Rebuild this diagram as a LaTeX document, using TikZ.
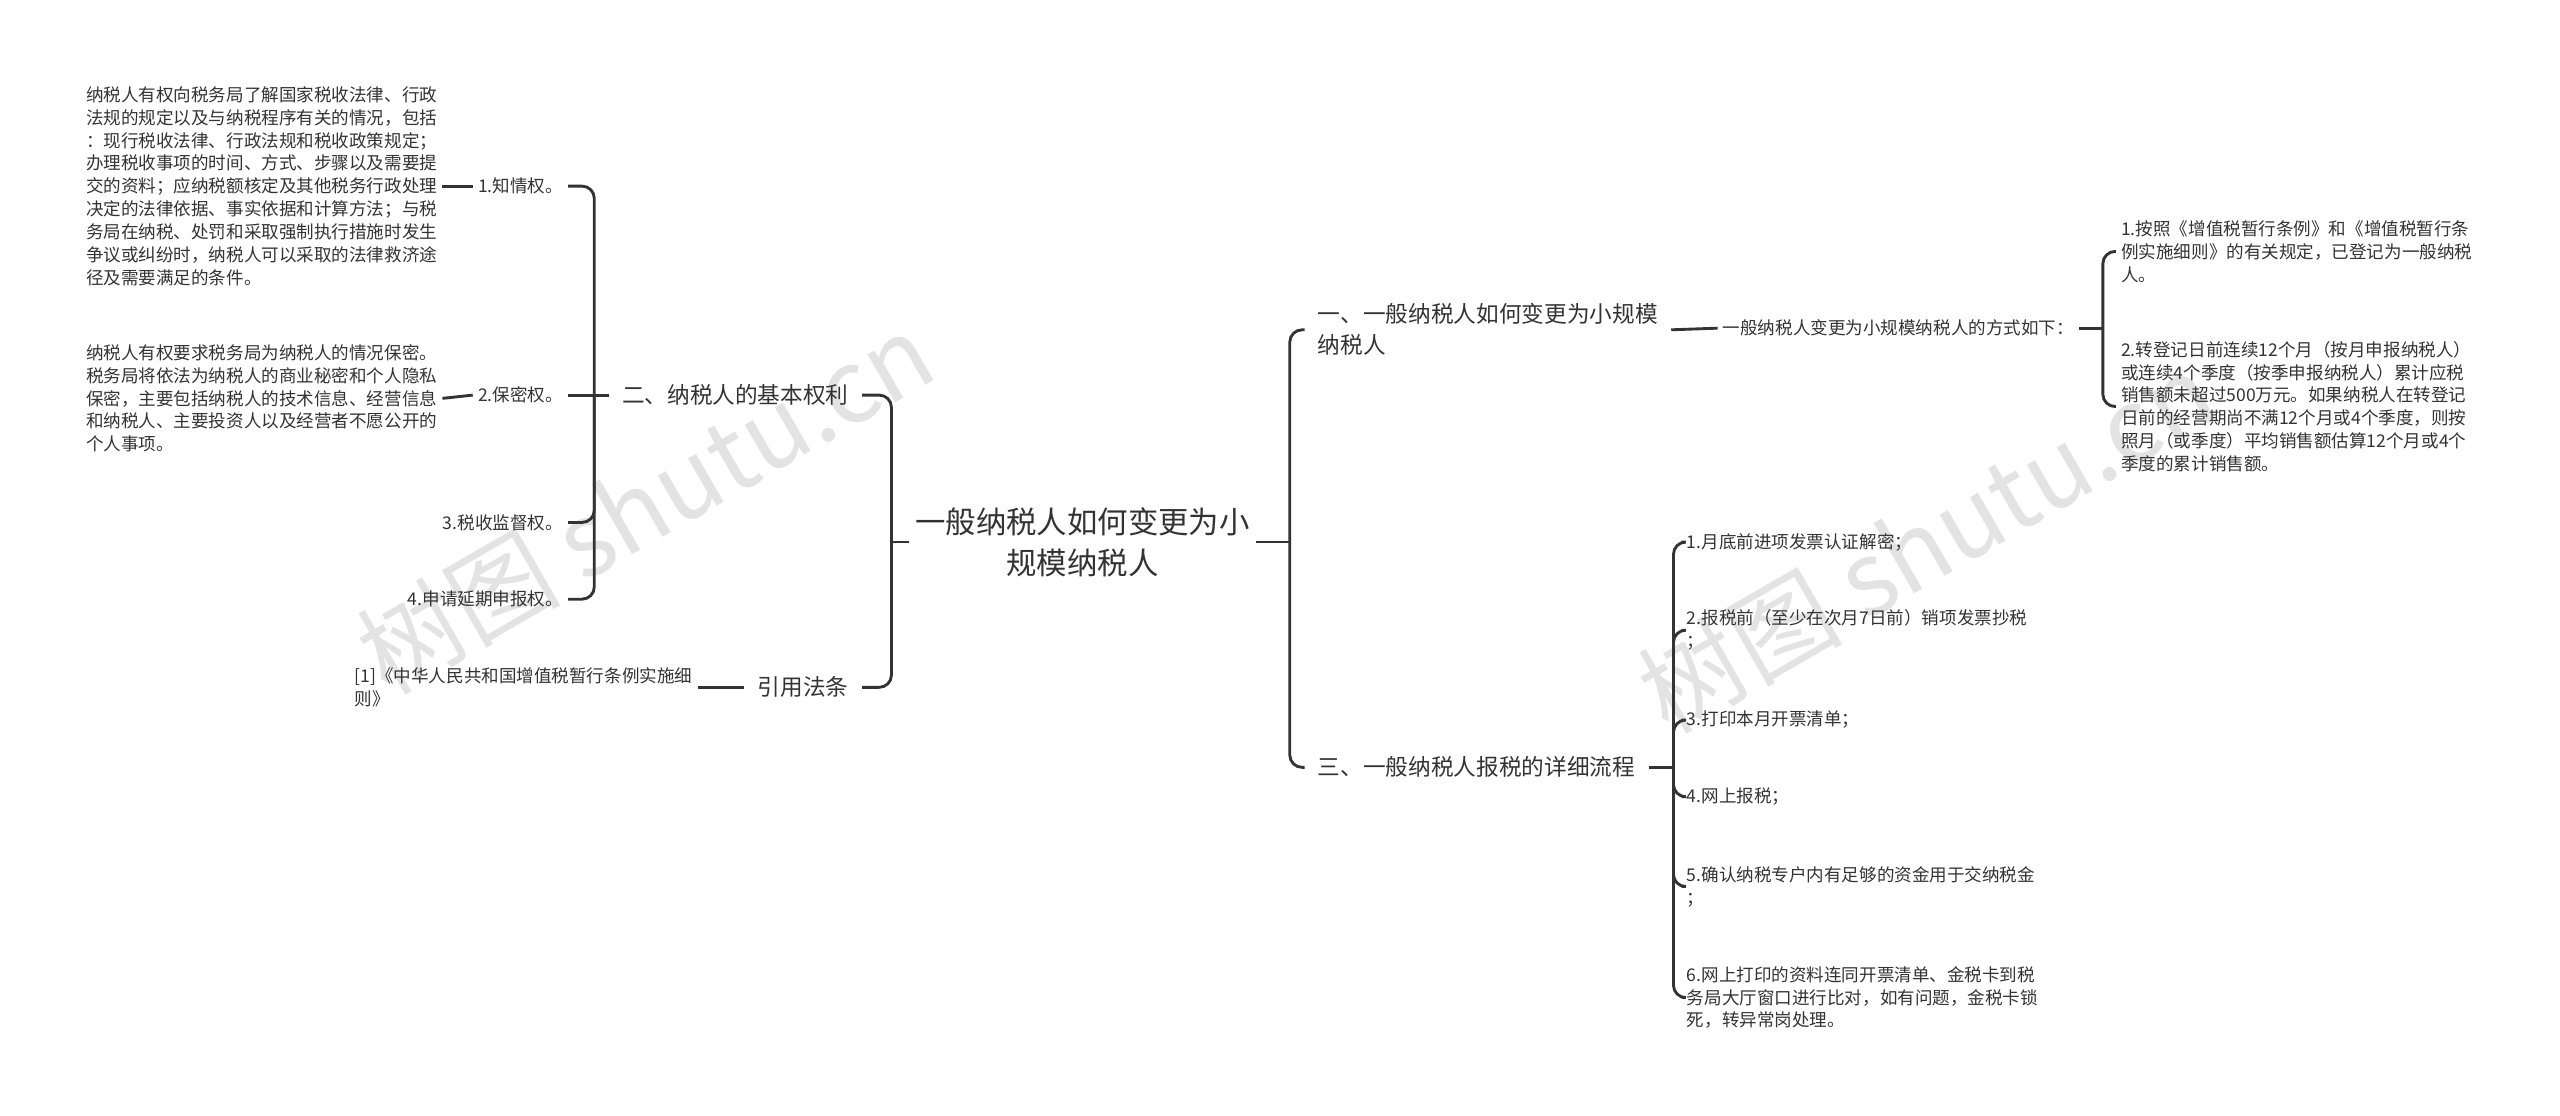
\documentclass[tikz,border=0pt]{standalone}
\usepackage{fontspec}
\setmainfont{Noto Sans CJK SC}
\usepackage{tikz}
\usepackage{xcolor}
\definecolor{inkcolor}{HTML}{333333}
\definecolor{stampcolor}{HTML}{E3E3E3}

\begin{document}
\begin{tikzpicture}[
    x=0.8pt, y=-0.8pt,
    rootnode/.style={inner sep=3pt, align=center, text=inkcolor,
        font=\fontsize{14.9pt}{20pt}\selectfont},
    topicnode/.style={inner xsep=6.4pt, inner ysep=3pt, align=left, text=inkcolor,
        font=\fontsize{11.1pt}{15.2pt}\selectfont},
    leafnode/.style={inner sep=2.4pt, align=left, text=inkcolor,
        font=\fontsize{8.6pt}{11.2pt}\selectfont},
    link/.style={draw=inkcolor, line width=1.4pt, rounded corners=6pt},
    stamp/.style={text=stampcolor, rotate=30, font=\fontsize{50pt}{50pt}\selectfont}
]
\useasboundingbox (0,0) rectangle (1568,683);

% watermarks
\node[stamp] (stampL) at (395,308) {树图 shutu.cn};
\node[stamp] (stampR) at (1180,332) {树图 shutu.cn};

% centre
\node[rootnode] (root) at (663,332) {一般纳税人如何变更为小\\规模纳税人};
\coordinate (jL) at (546,332);
\coordinate (jR) at (790,332);
\draw[link] (root.west) -- (jL);
\draw[link] (root.east) -- (jR);

% left half
\node[topicnode, anchor=east] (rights) at (528,242) {二、纳税人的基本权利};
\node[topicnode, anchor=east] (laws) at (528,421) {引用法条};
\draw[link] (jL) |- (rights.east);
\draw[link] (jL) |- (laws.east);

\coordinate (jA) at (364,242);
\draw[link] (rights.west) -- (jA);
\node[leafnode, anchor=east] (right1) at (348,114) {1.知情权。};
\node[leafnode, anchor=east] (right2) at (348,242) {2.保密权。};
\node[leafnode, anchor=east] (right3) at (348,320) {3.税收监督权。};
\node[leafnode, anchor=east] (right4) at (348,367) {4.申请延期申报权。};
\draw[link] (jA) -- (right2.east);
\foreach \n in {1,3,4}
    \draw[link] (jA) |- (right\n.east);

\node[leafnode, anchor=east] (info1) at (271,114) {纳税人有权向税务局了解国家税收法律、行政\\法规的规定以及与纳税程序有关的情况，包括\\：现行税收法律、行政法规和税收政策规定；\\办理税收事项的时间、方式、步骤以及需要提\\交的资料；应纳税额核定及其他税务行政处理\\决定的法律依据、事实依据和计算方法；与税\\务局在纳税、处罚和采取强制执行措施时发生\\争议或纠纷时，纳税人可以采取的法律救济途\\径及需要满足的条件。};
\node[leafnode, anchor=east] (info2) at (271,244) {纳税人有权要求税务局为纳税人的情况保密。\\税务局将依法为纳税人的商业秘密和个人隐私\\保密，主要包括纳税人的技术信息、经营信息\\和纳税人、主要投资人以及经营者不愿公开的\\个人事项。};
\draw[link] (info1.east) -- (right1.west);
\draw[link] (info2.east) -- (right2.west);

\node[leafnode, anchor=west] (cite) at (214,421) {[1]《中华人民共和国增值税暂行条例实施细\\则》};
\draw[link] (cite.east) -- (laws.west);

% right half
\node[topicnode, anchor=west] (change) at (799,202) {一、一般纳税人如何变更为小规模\\纳税人};
\node[topicnode, anchor=west] (flow) at (799,470) {三、一般纳税人报税的详细流程};
\draw[link] (jR) |- (change.west);
\draw[link] (jR) |- (flow.west);

\node[leafnode, anchor=west] (way) at (1052,201) {一般纳税人变更为小规模纳税人的方式如下：};
\draw[link] (change.east) -- (way.west);
\coordinate (jS) at (1288,201);
\draw[link] (way.east) -- (jS);
\node[leafnode, anchor=west] (way1) at (1296,154) {1.按照《增值税暂行条例》和《增值税暂行条\\例实施细则》的有关规定，已登记为一般纳税\\人。};
\node[leafnode, anchor=west] (way2) at (1296,249) {2.转登记日前连续12个月（按月申报纳税人）\\或连续4个季度（按季申报纳税人）累计应税\\销售额未超过500万元。如果纳税人在转登记\\日前的经营期尚不满12个月或4个季度，则按\\照月（或季度）平均销售额估算12个月或4个\\季度的累计销售额。};
\draw[link] (jS) |- (way1.west);
\draw[link] (jS) |- (way2.west);

\coordinate (jT) at (1025,470);
\draw[link] (flow.east) -- (jT);
\foreach \n/\y/\t in {
    1/332/{1.月底前进项发票认证解密；},
    2/386/{2.报税前（至少在次月7日前）销项发票抄税\\；},
    3/441/{3.打印本月开票清单；},
    4/488/{4.网上报税；},
    5/543/{5.确认纳税专户内有足够的资金用于交纳税金\\；},
    6/611/{6.网上打印的资料连同开票清单、金税卡到税\\务局大厅窗口进行比对，如有问题，金税卡锁\\死，转异常岗处理。}} {
    \node[leafnode, anchor=west] (flow\n) at (1030,\y) {\t};
    \draw[link] (jT) |- (flow\n.west);
}
\end{tikzpicture}
\end{document}
